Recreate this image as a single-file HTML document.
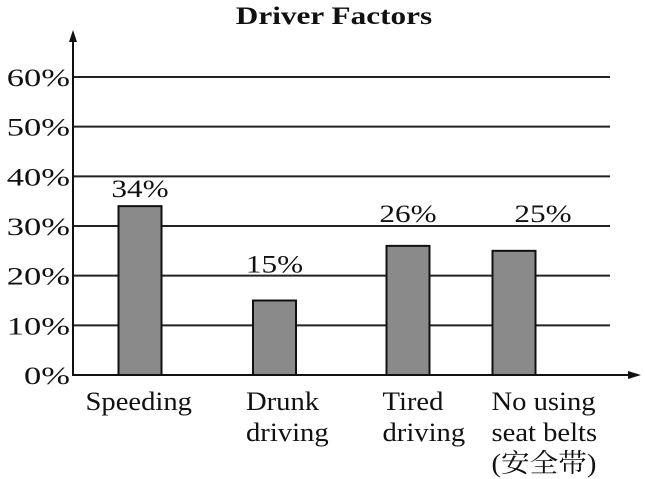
<!DOCTYPE html>
<html><head><meta charset="utf-8"><style>
body{margin:0;background:#fff;}
svg{display:block;font-family:"Liberation Serif","Noto Serif CJK SC",serif;}
</style></head><body>
<svg id="c" width="645" height="479" viewBox="0 0 645 479">
<text id="title" x="334" y="24" text-anchor="middle" font-size="25" font-weight="bold" fill="#111">Driver Factors</text>
<g id="grid"></g><g id="bars"></g><g id="labels"></g><g id="axes"></g>
</svg>
<script>
const categories=[["Speeding"],["Drunk","driving"],["Tired","driving"],["No using","seat belts","(安全带)"]];
const values=[34,15,26,25];
const valueLabels=["34%","15%","26%","25%"];
const ticks=[0,10,20,30,40,50,60];
const tickLabels=["0%","10%","20%","30%","40%","50%","60%"];
const labelGap=[18,37,33,38];
const labelShift=[0,0,0,29];
const NS="http://www.w3.org/2000/svg";
const x0=73,y0=375,xEnd=610;
const y=v=>y0-v*(y0-77)/60;
const barCenters=[140,274.5,408,514];
const catShift=[-33,-7,-4,-1];
const bw=43;
const stretch=[];
function mk(t,a,p){const e=document.createElementNS(NS,t);for(const k in a)e.setAttribute(k,a[k]);p.appendChild(e);return e;}
const g=document.getElementById('grid');
ticks.forEach((t,i)=>{
 if(t>0){const l=mk('line',{x1:x0,x2:xEnd,y1:y(t),y2:y(t),stroke:'#222','stroke-width':2},g);
 
 }
 const tx=mk('text',{x:70,y:y(t)+9,'text-anchor':'end','font-size':25,fill:'#111'},g);
 tx.textContent=tickLabels[i];
 
 
 stretch.push([tx,1.38]);
});
const b=document.getElementById('bars');
values.forEach((v,i)=>{
 const r=mk('rect',{x:barCenters[i]-bw/2,y:y(v),width:bw,height:y0-y(v),fill:'#8a8a8a',stroke:'#111','stroke-width':2},b);
 
 
 const t=mk('text',{x:barCenters[i]+labelShift[i],y:y(v)-labelGap[i]+9,'text-anchor':'middle','font-size':25,fill:'#111'},b);
 t.textContent=valueLabels[i];
 
 
 stretch.push([t,1.25]);
 categories[i].forEach((s,j)=>{
  const c=mk('text',{x:barCenters[i]-bw/2+catShift[i],y:410+j*31,'text-anchor':'start','font-size':26,fill:'#111'},b);
  c.textContent=s;
  
  
  stretch.push([c,1.1]);
 });
});
stretch.push([document.getElementById('title'),1.25]);
stretch.forEach(([el,k])=>{const w=el.getComputedTextLength();el.setAttribute('textLength',w*k);el.setAttribute('lengthAdjust','spacingAndGlyphs');});
const a=document.getElementById('axes');
const ya=mk('path',{d:`M${x0} ${y0+1}L${x0} 34`,stroke:'#111','stroke-width':2,fill:'none'},a);


const yh=mk('path',{d:`M${x0-4} 42L${x0} 30L${x0+4} 42Z`,fill:'#111'},a);


const xa=mk('path',{d:`M${x0} ${y0}L636 ${y0}`,stroke:'#111','stroke-width':2,fill:'none'},a);


const xh=mk('path',{d:`M628 ${y0-4}L641 ${y0}L628 ${y0+4}Z`,fill:'#111'},a);


</script>
</body></html>
